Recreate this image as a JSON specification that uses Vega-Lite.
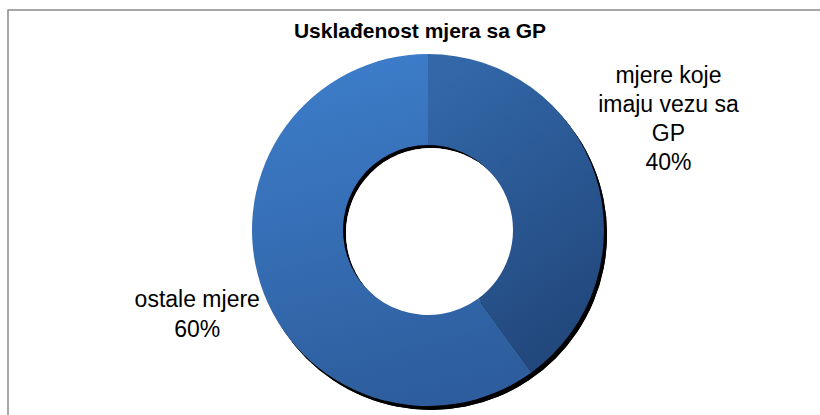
{
  "$schema": "https://vega.github.io/schema/vega-lite/v6.json",
  "width": 840,
  "height": 440,
  "autosize": "none",
  "padding": {"left": 8, "top": 10, "right": 0, "bottom": 0},
  "background": "white",
  "view": {"stroke": "#8a8a8a", "strokeWidth": 1.5, "fill": "white"},
  "config": {"font": "Liberation Sans"},
  "title": {
    "text": "Usklađenost mjera sa GP",
    "font": "Liberation Sans",
    "fontSize": 21,
    "fontWeight": "bold",
    "color": "#000000",
    "anchor": "middle",
    "frame": "group",
    "baseline": "alphabetic",
    "offset": -49,
    "dx": -8
  },
  "data": {
    "values": [
      {"kategorija": "mjere koje imaju vezu sa GP", "oznaka": "mjere koje\nimaju vezu sa\nGP", "udio": 40},
      {"kategorija": "ostale mjere", "oznaka": "ostale mjere", "udio": 60}
    ]
  },
  "transform": [
    {"calculate": "datum.oznaka + '\\n' + datum.udio + '%'", "as": "tekst"}
  ],
  "layer": [
    {
      "mark": {"type": "arc", "radius": 176, "theta": 0, "theta2": 6.2832, "fill": "#000000", "x": {"expr": "width/2 + 3"}, "y": {"expr": "height/2 + 4"}},
      "encoding": {}
    },
    {
      "mark": {"type": "arc", "radius": 85, "theta": 0, "theta2": 6.2832, "fill": "#ffffff", "x": {"expr": "width/2 + 3"}, "y": {"expr": "height/2 + 3"}},
      "encoding": {}
    },
    {
      "mark": {"type": "arc", "radius": 176, "radius2": 85, "stroke": null},
      "encoding": {
        "theta": {"field": "udio", "type": "quantitative", "stack": true},
        "fill": {
          "condition": {
            "test": "datum.udio == 40",
            "value": {"gradient": "linear", "x1": 0.3, "y1": 0, "x2": 0.7, "y2": 1, "stops": [{"offset": 0, "color": "#3267a8"}, {"offset": 1, "color": "#21467a"}]}
          },
          "value": {"gradient": "linear", "x1": 0.3, "y1": 0, "x2": 0.5, "y2": 1, "stops": [{"offset": 0, "color": "#3d7dca"}, {"offset": 1, "color": "#2d5d9c"}]}
        },
        "tooltip": [{"field": "kategorija", "type": "nominal"}, {"field": "udio", "type": "quantitative"}]
      }
    },
    {
      "mark": {"type": "text", "radius": 256, "fontSize": 23, "lineHeight": 29, "lineBreak": "\n", "align": "center", "baseline": "middle", "color": "#000000", "dx": -3, "dy": -75},
      "encoding": {
        "theta": {"field": "udio", "type": "quantitative", "stack": true},
        "text": {"condition": {"test": "datum.udio == 40", "field": "tekst"}, "value": ""}
      }
    },
    {
      "mark": {"type": "text", "radius": 250, "fontSize": 23, "lineHeight": 30, "lineBreak": "\n", "align": "center", "baseline": "middle", "color": "#000000", "dx": 7, "dy": -7},
      "encoding": {
        "theta": {"field": "udio", "type": "quantitative", "stack": true},
        "text": {"condition": {"test": "datum.udio == 60", "field": "tekst"}, "value": ""}
      }
    }
  ]
}
